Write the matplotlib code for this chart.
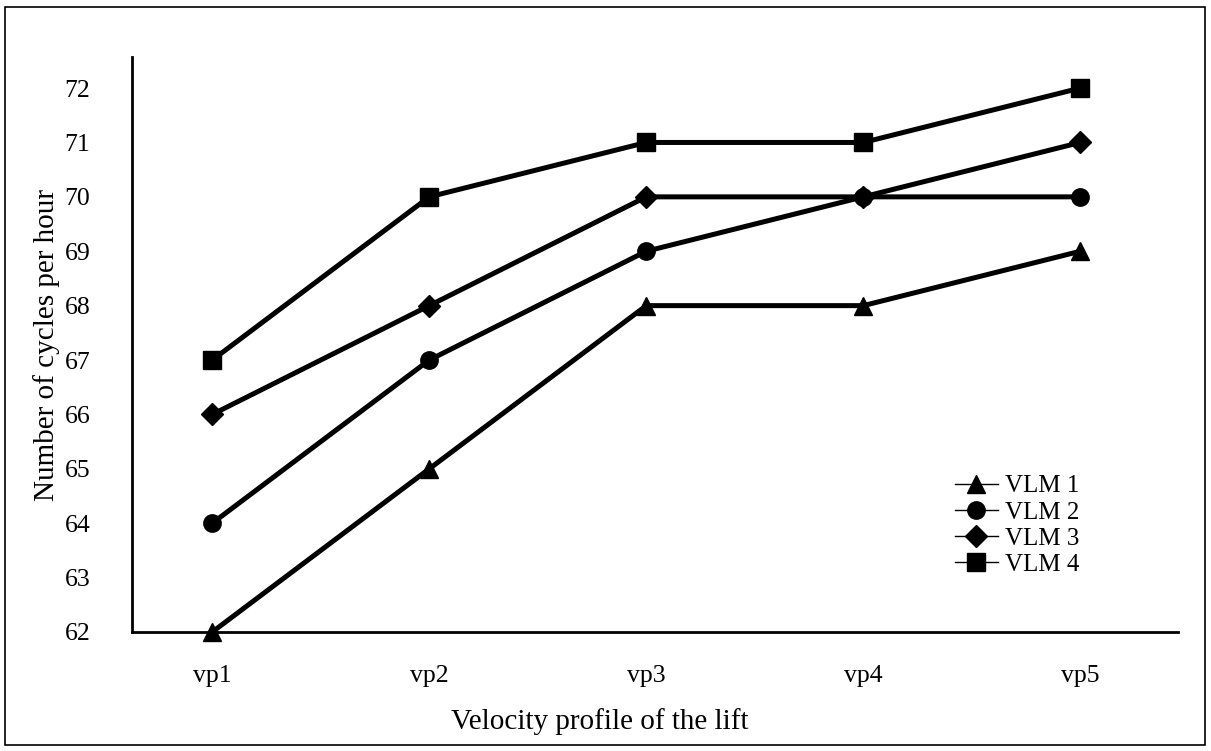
import matplotlib.pyplot as plt
from matplotlib.patches import Rectangle

plt.rcParams['font.family'] = ['Liberation Serif', 'DejaVu Serif']

# data
profiles = ['vp1', 'vp2', 'vp3', 'vp4', 'vp5']
vlm1 = [62, 65, 68, 68, 69]
vlm2 = [64, 67, 69, 70, 70]
vlm3 = [66, 68, 70, 70, 71]
vlm4 = [67, 70, 71, 71, 72]
series = [('VLM 1', vlm1, '^'), ('VLM 2', vlm2, 'o'),
          ('VLM 3', vlm3, 'D'), ('VLM 4', vlm4, 's')]
yticks = list(range(62, 73))

fig = plt.figure(figsize=(12.11, 7.51), dpi=100)
ax = fig.add_axes([0.109, 0.1585, 0.8637, 0.7655])

x = list(range(len(profiles)))
for name, vals, mk in series:
    ms = 11 if mk == 'D' else 12.5
    ax.plot(x, vals, color='black', lw=3.6, marker=mk, markersize=ms,
            clip_on=False, zorder=3)
    # thin line for the legend entry
    ax.plot([], [], color='black', lw=1, marker=mk, markersize=ms, label=name)

ax.set_xlim(-0.37, 4.45)
ax.set_ylim(62, 72.57)
ax.set_xticks(x)
ax.set_xticklabels(profiles)
ax.set_yticks(yticks)
ax.tick_params(length=0, labelsize=18.5)
ax.tick_params(axis='y', pad=30)
ax.tick_params(axis='x', pad=24)
for s in ['top', 'right']:
    ax.spines[s].set_visible(False)
for s in ['left', 'bottom']:
    ax.spines[s].set_linewidth(2)

ax.set_xlabel('Velocity profile of the lift', fontsize=21, labelpad=15)
ax.xaxis.label.set_x(0.447)
ax.set_ylabel('Number of cycles per hour', fontsize=21, labelpad=3)

ax.legend(loc='center left', bbox_to_anchor=(0.7886, 0.3003),
          bbox_transform=fig.transFigure, frameon=False,
          fontsize=18, handlelength=1.72, handletextpad=0.3, labelspacing=0.15,
          borderpad=0, borderaxespad=0)

fig.patches.append(Rectangle((0.004, 0.008), 0.991, 0.983, transform=fig.transFigure,
                             fill=False, edgecolor='black', lw=1.2))

plt.savefig('out.png', dpi=100)
